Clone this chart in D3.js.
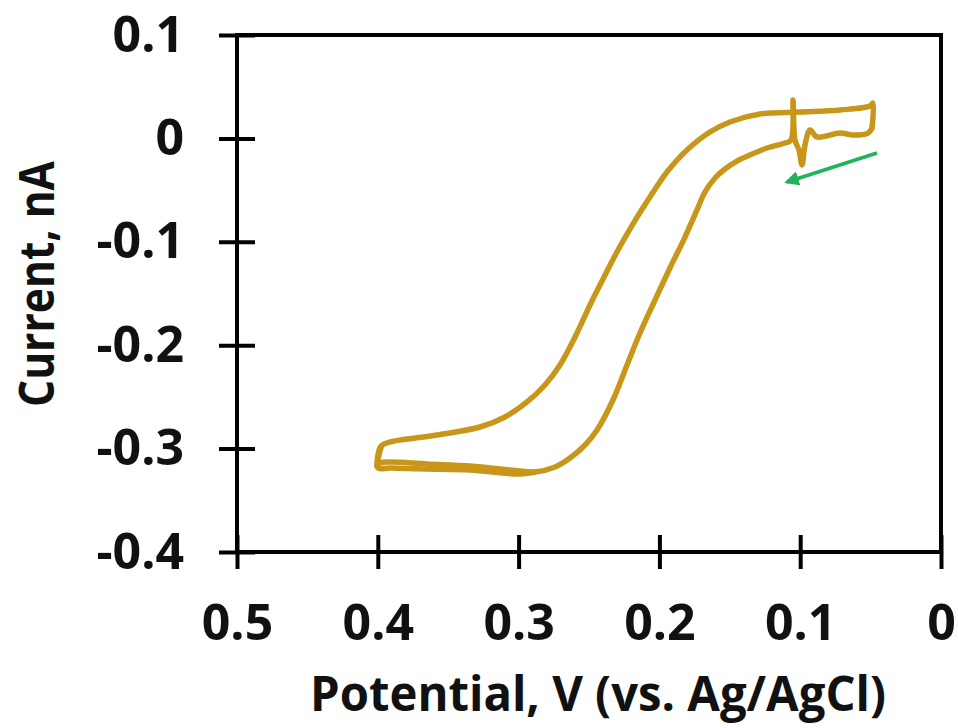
<!DOCTYPE html>
<html>
<head>
<style>
  body { margin: 0; background: #fff; }
  text { font-family: "Open Sans", "DejaVu Sans", sans-serif; font-weight: bold; fill: #111; }
</style>
</head>
<body></body>
<script src="https://cdn.jsdelivr.net/npm/d3@7"></script>
<script>

// tick values, both axes
var xTicks = [0.5, 0.4, 0.3, 0.2, 0.1, 0];
var yTicks = [0.1, 0, -0.1, -0.2, -0.3, -0.4];

// the CV loop, [potential V, current nA]
// lower branch, scanned from 0.05 V up to 0.40 V
var forwardScan = [
  [0.0490, 0.0101], [0.0518, 0.0052], [0.0625, 0.0033], [0.0717, 0.0052],
  [0.0881, 0.0014], [0.0930, 0.0081], [0.0966, -0.0064], [0.0987, -0.0257],
  [0.1009, -0.0112], [0.1037, -0.0015], [0.1051, 0.0371], [0.1065, -0.0015],
  [0.1108, -0.0044], [0.1236, -0.0093], [0.1357, -0.0161], [0.1449, -0.0219],
  [0.1534, -0.0296], [0.1605, -0.0383], [0.1676, -0.0518], [0.1733, -0.0692],
  [0.1818, -0.0954], [0.1925, -0.1253], [0.2031, -0.1563], [0.2138, -0.1882],
  [0.2230, -0.2191], [0.2330, -0.2530], [0.2443, -0.2820], [0.2528, -0.2965],
  [0.2635, -0.3091], [0.2741, -0.3178], [0.2884, -0.3226], [0.2990, -0.3217],
  [0.3345, -0.3168], [0.3651, -0.3149], [0.3913, -0.3130], [0.3984, -0.3139],
  [0.4006, -0.3168]
];
// upper branch, scanned back from 0.40 V to 0.05 V
var reverseScan = [
  [0.4006, -0.3168], [0.3999, -0.3062], [0.3977, -0.2975], [0.3913, -0.2936],
  [0.3580, -0.2868], [0.3274, -0.2791], [0.3097, -0.2694], [0.2940, -0.2549],
  [0.2813, -0.2385], [0.2706, -0.2191], [0.2599, -0.1921], [0.2493, -0.1611],
  [0.2393, -0.1340], [0.2294, -0.1079], [0.2180, -0.0809], [0.2067, -0.0567],
  [0.1946, -0.0325], [0.1804, -0.0112], [0.1641, 0.0062], [0.1499, 0.0159],
  [0.1286, 0.0236], [0.1001, 0.0255], [0.0717, 0.0275], [0.0504, 0.0313],
  [0.0483, 0.0342], [0.0490, 0.0101]
];
// second cycle, only where it splits from the first one (bottom left)
var secondCycle = [
  [0.2884, -0.3226], [0.2990, -0.3246], [0.3345, -0.3207], [0.3651, -0.3197],
  [0.3913, -0.3188], [0.3999, -0.3188], [0.3999, -0.3110], [0.3977, -0.2990]
];
// scan direction arrow: from, to
var arrowFrom = [0.0455, -0.0141];
var arrowTo = [0.1094, -0.0422];

var W = 958, H = 728;
var margin = {left: 237, top: 35, right: 17, bottom: 176};
var iw = W - margin.left - margin.right,
    ih = H - margin.top - margin.bottom;

var svg = d3.select("body").append("svg")
    .attr("width", W)
    .attr("height", H);

var defs = svg.append("defs");
defs.append("marker")
    .attr("id", "head")
    .attr("viewBox", "0 0 10 10")
    .attr("refX", 8).attr("refY", 5)
    .attr("markerWidth", 4.2).attr("markerHeight", 4.2)
    .attr("orient", "auto")
  .append("path")
    .attr("d", "M0,0 L10,5 L0,10 Z")
    .style("fill", "#1fb35c");

var g = svg.append("g").attr("transform", "translate(" + margin.left + "," + margin.top + ")");

// x runs backwards, 0.5 on the left
var x = d3.scaleLinear().domain([0.5, 0]).range([0, iw]);
var y = d3.scaleLinear().domain([-0.4, 0.1]).range([ih, 0]);

var fmt = function(d) { return String(d); };

// axes: ticks cross the axis line
var xa = g.append("g").attr("transform", "translate(0," + ih + ")")
    .call(d3.axisBottom(x).tickValues(xTicks).tickFormat(fmt).tickSize(17).tickPadding(35));
xa.select(".domain").remove();
xa.selectAll(".tick line").attr("y1", -17).attr("y2", 17)
    .style("stroke", "#000").style("stroke-width", 4);
xa.selectAll(".tick text").style("font-size", "50px").attr("dy", 0).attr("y", 88)
    .style("font-family", "'Open Sans', sans-serif");

var ya = g.append("g")
    .call(d3.axisLeft(y).tickValues(yTicks).tickFormat(fmt).tickSize(18).tickPadding(36));
ya.select(".domain").remove();
ya.selectAll(".tick line").attr("x1", -18).attr("x2", 18)
    .style("stroke", "#000").style("stroke-width", 4);
ya.selectAll(".tick text").style("font-size", "50px").attr("x", -53)
    .style("font-family", "'Open Sans', sans-serif");

// frame
g.append("rect")
    .attr("x", 0).attr("y", 0)
    .attr("width", iw).attr("height", ih)
    .style("fill", "none")
    .style("stroke", "#000")
    .style("stroke-width", 4);

// data
var line = d3.line()
    .x(function(d) { return x(d[0]); })
    .y(function(d) { return y(d[1]); })
    .curve(d3.curveCatmullRom.alpha(0.5));

[forwardScan, reverseScan, secondCycle].forEach(function(s) {
  g.append("path")
      .datum(s)
      .attr("d", line)
      .style("fill", "none")
      .style("stroke", "#c8971a")
      .style("stroke-width", 5.5)
      .style("stroke-linejoin", "round")
      .style("stroke-linecap", "round");
});

g.append("line")
    .attr("x1", x(arrowFrom[0])).attr("y1", y(arrowFrom[1]))
    .attr("x2", x(arrowTo[0])).attr("y2", y(arrowTo[1]))
    .style("stroke", "#1fb35c")
    .style("stroke-width", 3.5)
    .attr("marker-end", "url(#head)");

// axis titles
svg.append("text")
    .attr("x", 598).attr("y", 711)
    .attr("text-anchor", "middle")
    .attr("textLength", 576).attr("lengthAdjust", "spacingAndGlyphs")
    .style("font-size", "48px")
    .text("Potential, V (vs. Ag/AgCl)");

svg.append("text")
    .attr("transform", "translate(54,284) rotate(-90)")
    .attr("text-anchor", "middle")
    .attr("textLength", 246).attr("lengthAdjust", "spacingAndGlyphs")
    .style("font-size", "48px")
    .text("Current, nA");

</script>
</html>
